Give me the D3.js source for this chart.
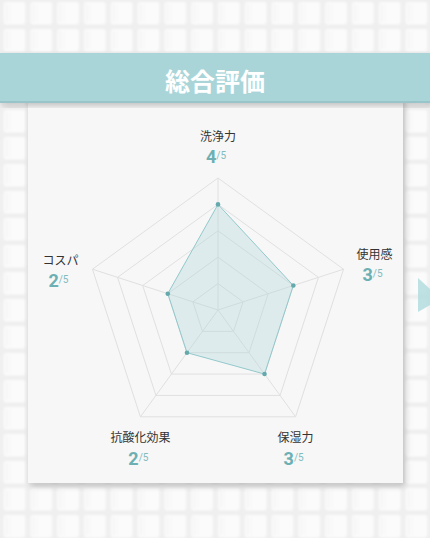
<!DOCTYPE html>
<html><head><meta charset="utf-8">
<script src="https://cdn.jsdelivr.net/npm/d3@7"></script>
<style>
html,body{margin:0;padding:0;background:#efefef;}
svg{display:block;font-family:"Noto Sans CJK JP","Noto Sans",sans-serif;}
</style></head>
<body><svg id="c" width="430" height="538"></svg>
<script>
const title = "総合評価";
const categories = ["洗浄力","使用感","保湿力","抗酸化効果","コスパ"];
const values = [4,3,3,2,2];
const maxValue = 5;
const levels = [1,2,3,4,5];

const W=430,H=538;
const svg=d3.select("#c");
const defs=svg.append("defs");

// background tile pattern
const tb=defs.append("filter").attr("id","tb");
tb.append("feGaussianBlur").attr("stdDeviation",1.2);
const pat=defs.append("pattern").attr("id","tiles").attr("patternUnits","userSpaceOnUse")
  .attr("width",26.8).attr("height",27).attr("x",1).attr("y",0);
pat.append("rect").attr("width",26.8).attr("height",27).attr("fill","#efefef");
const pg=pat.append("g").attr("filter","url(#tb)");
pg.append("rect").attr("x",2.5).attr("y",2).attr("width",22).attr("height",22.5).attr("rx",3).attr("fill","#fbfbfb");
pg.append("rect").attr("x",4.5).attr("y",4).attr("width",2).attr("height",18).attr("fill","#f4f4f4");
pg.append("rect").attr("x",8.5).attr("y",4).attr("width",1.5).attr("height",18).attr("fill","#f6f6f6");
svg.append("rect").attr("width",W).attr("height",H).attr("fill","url(#tiles)");

const blur=defs.append("filter").attr("id","sh").attr("x","-10%").attr("y","-10%").attr("width","120%").attr("height","120%");
blur.append("feGaussianBlur").attr("in","SourceAlpha").attr("stdDeviation",3);
blur.append("feOffset").attr("dx",2).attr("dy",3).attr("result","o");
blur.append("feComponentTransfer").append("feFuncA").attr("type","linear").attr("slope",0.22);
const m=blur.append("feMerge");m.append("feMergeNode");m.append("feMergeNode").attr("in","SourceGraphic");

// card
svg.append("rect").attr("x",28).attr("y",100).attr("width",375).attr("height",383).attr("fill","#f7f7f7").attr("filter","url(#sh)");

// banner
svg.append("rect").attr("x",0).attr("y",53).attr("width",W).attr("height",50).attr("fill","#a9d5d9").attr("filter","url(#sh)");
svg.append("rect").attr("x",0).attr("y",101).attr("width",W).attr("height",2).attr("fill","#98c5c9");
svg.append("text").attr("x",215).attr("y",80).attr("text-anchor","middle").attr("dominant-baseline","central")
  .attr("fill","#fff").attr("font-size",25).attr("font-weight",700).text(title);

// right arrow
svg.append("path").attr("d","M418,278 L430,289 L430,305 L418,312 Z").attr("fill","#b3dcdf").attr("opacity",0.85);

// radar
const cx=218, cy=310, R=132;
const r=d3.scaleLinear().domain([0,maxValue]).range([0,R]);
const ang=d3.scaleLinear().domain([0,categories.length]).range([0,2*Math.PI]);
const pt=(i,v)=>[cx+r(v)*Math.sin(ang(i)), cy-r(v)*Math.cos(ang(i))];
const g=svg.append("g");
const line=d3.line().curve(d3.curveLinearClosed);

levels.forEach(l=>{
  g.append("path").attr("d",line(categories.map((c,i)=>pt(i,l))))
   .attr("fill","none").attr("stroke","#e0e0e0").attr("stroke-width",1);
});
categories.forEach((c,i)=>{
  const [x,y]=pt(i,maxValue);
  g.append("line").attr("x1",cx).attr("y1",cy).attr("x2",x).attr("y2",y).attr("stroke","#e0e0e0").attr("stroke-width",1);
});
g.append("path").attr("d",line(values.map((v,i)=>pt(i,v))))
  .attr("fill","#a9d5d9").attr("fill-opacity",0.32).attr("stroke","#93c8cb").attr("stroke-width",1);
g.selectAll("circle").data(values).join("circle")
  .attr("cx",(v,i)=>pt(i,v)[0]).attr("cy",(v,i)=>pt(i,v)[1]).attr("r",2.3).attr("fill","#64aaad");

// labels
categories.forEach((c,i)=>{
  const [vx,vy]=pt(i,maxValue);
  let lx=vx, ly=vy;
  const s=Math.sin(ang(i)), co=Math.cos(ang(i));
  if(co>0.9){ ly=vy-43; }
  else if(co>-0.5){ lx=vx+(s>0?31:-32); ly=vy+(s>0?-16:-10); }
  else { ly=vy+20; }
  svg.append("text").attr("x",lx).attr("y",ly).attr("text-anchor","middle").attr("dominant-baseline","central")
    .attr("font-size",12).attr("fill","#333").text(c);
  const t=svg.append("text").attr("x",lx-2).attr("y",ly+28).attr("text-anchor","middle").attr("fill","#6cb0b3");
  t.append("tspan").attr("font-size",18).attr("font-weight",700).attr("font-family","Roboto,'Noto Sans',sans-serif").text(values[i]);
  t.append("tspan").attr("font-size",10).attr("dy",-4).attr("fill","#80bcbf").attr("font-family","Roboto,'Noto Sans',sans-serif").text("/"+maxValue);
});
</script></body></html>
